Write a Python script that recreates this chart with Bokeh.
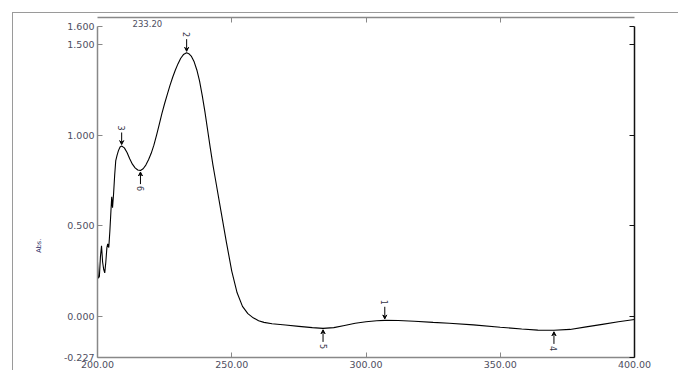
import math
from bokeh.plotting import figure
from bokeh.models import (LinearAxis, FixedTicker, NumeralTickFormatter, Title,
                          ColumnDataSource, Arrow, VeeHead, Range1d, CustomJSTickFormatter)
from bokeh.core.properties import value
from bokeh.embed import file_html
from bokeh.resources import INLINE

# ---- data ----
wavelength = [200.0, 200.3, 200.7, 201.1, 201.5, 201.9, 202.3, 202.7, 203.1, 203.5,
              203.8, 204.2, 204.6, 205.0, 205.3, 205.6, 206.0, 206.4, 206.8, 207.3,
              207.8, 208.4, 209.0, 210.0, 211.0, 212.0, 213.0, 214.0, 215.0, 216.0,
              217.0, 218.0, 219.0, 220.0, 221.0, 222.0, 223.0, 224.0, 225.0, 226.0,
              227.0, 228.0, 229.0, 230.0, 231.0, 232.0, 233.2, 234.0, 235.0, 236.0,
              237.0, 238.0, 239.0, 240.0, 241.0, 242.0, 243.0, 244.0, 246.0, 248.0,
              250.0, 252.0, 254.0, 256.0, 258.0, 260.0, 262.0, 265.0, 270.0, 275.0,
              280.0, 284.0, 288.0, 292.0, 296.0, 300.0, 304.0, 307.0, 312.0, 318.0,
              325.0, 331.0, 340.0, 350.0, 358.0, 364.0, 370.0, 376.0, 382.0, 388.0,
              394.0, 400.0]
absorbance = [0.30, 0.21, 0.22, 0.33, 0.39, 0.30, 0.26, 0.24, 0.30, 0.38,
              0.40, 0.38, 0.47, 0.58, 0.66, 0.60, 0.68, 0.78, 0.86, 0.89,
              0.915, 0.935, 0.94, 0.93, 0.905, 0.87, 0.84, 0.82, 0.808, 0.805,
              0.815, 0.835, 0.865, 0.90, 0.945, 1.00, 1.06, 1.12, 1.175, 1.225,
              1.275, 1.32, 1.36, 1.395, 1.425, 1.445, 1.455, 1.45, 1.435, 1.405,
              1.36, 1.30, 1.22, 1.13, 1.03, 0.93, 0.835, 0.75, 0.58, 0.41,
              0.25, 0.13, 0.055, 0.015, -0.008, -0.024, -0.033, -0.041, -0.048, -0.055,
              -0.062, -0.066, -0.062, -0.050, -0.038, -0.030, -0.024, -0.022, -0.023, -0.027,
              -0.033, -0.038, -0.047, -0.060, -0.070, -0.076, -0.077, -0.072, -0.058, -0.044,
              -0.030, -0.017]

peak_labels = ["1", "2", "3"]
peak_wl = [307.0, 233.2, 209.0]
peak_abs = [-0.022, 1.455, 0.94]

valley_labels = ["4", "5", "6"]
valley_wl = [370.0, 284.0, 216.0]
valley_abs = [-0.077, -0.066, 0.805]

y_ticks = [-0.227, 0.0, 0.5, 1.0, 1.5, 1.6]
x_ticks = [200, 250, 300, 350, 400]
top_ticks = [250, 300, 350]
peak_value_text = "233.20"

FONT = "DejaVu Sans"
TICK_COLOR = "#4e4e60"
BLANK = CustomJSTickFormatter(code="return ''")

p = figure(frame_width=537, frame_height=331, output_backend="svg", toolbar_location=None,
           x_range=Range1d(200, 400), y_range=Range1d(-0.227, 1.6),
           x_axis_location=None, y_axis_location=None,
           min_border_left=84, min_border_right=44, min_border_top=13,
           min_border_bottom=4)
p.styles = {"margin-left": "12px", "margin-top": "12px",
            "border-left": "1px solid #9a9a9a", "border-top": "1px solid #9a9a9a"}
p.grid.visible = False
p.outline_line_color = None
p.background_fill_color = "white"
p.border_fill_color = "white"

p.add_layout(Title(text=peak_value_text, align="left", offset=35, standoff=0,
                   text_font=FONT, text_font_size="8.5px", text_font_style="normal",
                   text_color=TICK_COLOR), "above")


def style_axis(ax, color, labels=True):
    ax.major_tick_in = 5
    ax.major_tick_out = 0
    ax.minor_tick_line_color = None
    ax.axis_line_color = color
    ax.axis_line_width = 1.5
    ax.major_tick_line_color = color
    if labels:
        ax.major_label_text_font = FONT
        ax.major_label_text_font_size = "9.5px"
        ax.major_label_text_color = TICK_COLOR
        ax.major_label_standoff = 3
    else:
        ax.formatter = BLANK
        ax.major_label_standoff = 0


left = LinearAxis(ticker=FixedTicker(ticks=y_ticks), formatter=NumeralTickFormatter(format="0.000"))
style_axis(left, "#888888")
left.axis_label = "Abs." + "\u00a0" * 52
left.axis_label_text_font = FONT
left.axis_label_text_font_size = "6.5px"
left.axis_label_text_font_style = "normal"
left.axis_label_text_color = "#2b2b66"
left.axis_label_standoff = 18
p.add_layout(left, "left")

bottom = LinearAxis(ticker=FixedTicker(ticks=x_ticks), formatter=NumeralTickFormatter(format="0.00"))
style_axis(bottom, "#888888")
p.add_layout(bottom, "below")

right = LinearAxis(ticker=FixedTicker(ticks=y_ticks))
style_axis(right, "#111111", labels=False)
p.add_layout(right, "right")

top = LinearAxis(ticker=FixedTicker(ticks=top_ticks))
style_axis(top, "#888888", labels=False)
p.add_layout(top, "above")

# spectrum
p.line(wavelength, absorbance, line_color="black", line_width=1.1)

# peak markers (arrows pointing down onto peaks)
pk = ColumnDataSource(dict(x=peak_wl, y=peak_abs, lab=peak_labels,
                           ys=[v + 0.075 for v in peak_abs],
                           ye=[v + 0.008 for v in peak_abs],
                           yl=[v + 0.1 for v in peak_abs]))
p.add_layout(Arrow(x_start="x", y_start="ys", x_end="x", y_end="ye", source=pk,
                   line_color="black", line_width=1,
                   end=VeeHead(size=4, line_color="black", fill_color="black")))
p.text(x="x", y="yl", text="lab", source=pk, angle=-math.pi / 2,
       text_align="center", text_baseline="middle", text_font=value(FONT),
       text_font_size="8px", text_color="#333344")

vl = ColumnDataSource(dict(x=valley_wl, y=valley_abs, lab=valley_labels,
                           ys=[v - 0.075 for v in valley_abs],
                           ye=[v - 0.008 for v in valley_abs],
                           yl=[v - 0.1 for v in valley_abs]))
p.add_layout(Arrow(x_start="x", y_start="ys", x_end="x", y_end="ye", source=vl,
                   line_color="black", line_width=1,
                   end=VeeHead(size=4, line_color="black", fill_color="black")))
p.text(x="x", y="yl", text="lab", source=vl, angle=-math.pi / 2,
       text_align="center", text_baseline="middle", text_font=value(FONT),
       text_font_size="8px", text_color="#333344")

open("out.html", "w").write(file_html(p, INLINE))
